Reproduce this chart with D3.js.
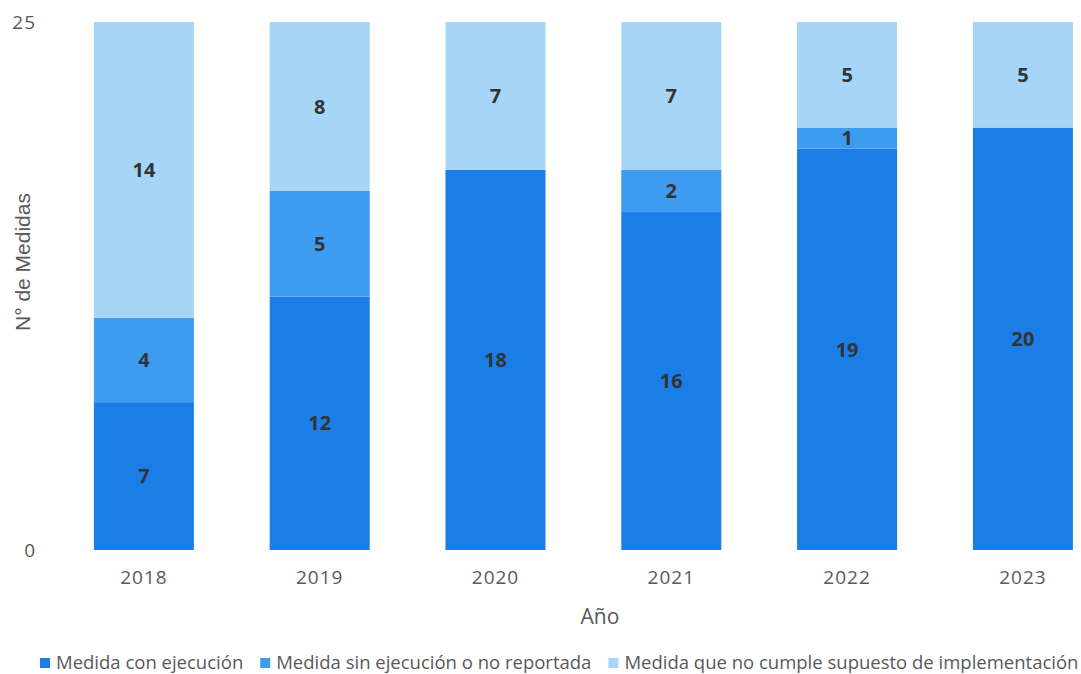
<!DOCTYPE html>
<html>
<head>
<meta charset="utf-8">
<script src="https://cdn.jsdelivr.net/npm/d3@7"></script>
<style>
  body { margin: 0; background: #fff; }
  svg { font-family: "Open Sans", sans-serif; }
</style>
</head>
<body>
<div id="chart"></div>
<script>
const years = ['2018', '2019', '2020', '2021', '2022', '2023'];
const conEjecucion = [7, 12, 18, 16, 19, 20];
const sinEjecucion = [4, 5, 0, 2, 1, 0];
const noCumple = [14, 8, 7, 7, 5, 5];
const seriesNames = [
  'Medida con ejecución',
  'Medida sin ejecución o no reportada',
  'Medida que no cumple supuesto de implementación'
];
const yTicks = [0, 25];

const width = 1081;
const height = 674;
const colors = ['#1b7ee6', '#3d9cef', '#a7d5f7'];

const svg = d3.select('#chart')
  .append('svg')
  .attr('width', width)
  .attr('height', height);

const rows = years.map((y, i) => ({
  year: y,
  s0: conEjecucion[i],
  s1: sinEjecucion[i],
  s2: noCumple[i]
}));
const stacked = d3.stack().keys(['s0', 's1', 's2'])(rows);

const x = d3.scaleBand()
  .domain(years)
  .range([56, 56 + 6 * 175.8])
  .paddingInner(0.431)
  .paddingOuter(0.2155);

const y = d3.scaleLinear()
  .domain([0, 25])
  .range([550, 22]);

// bars
stacked.forEach((layer, k) => {
  svg.append('g')
    .selectAll('rect')
    .data(layer)
    .join('rect')
    .attr('x', d => x(d.data.year))
    .attr('y', d => y(d[1]))
    .attr('width', x.bandwidth())
    .attr('height', d => y(d[0]) - y(d[1]))
    .attr('fill', colors[k]);

  svg.append('g')
    .selectAll('text')
    .data(layer.filter(d => d[1] - d[0] > 0))
    .join('text')
    .attr('x', d => x(d.data.year) + x.bandwidth() / 2)
    .attr('y', d => y((d[0] + d[1]) / 2))
    .attr('dy', '0.36em')
    .attr('text-anchor', 'middle')
    .attr('font-size', 20)
    .attr('font-weight', 'bold')
    .attr('fill', '#333')
    .text(d => d[1] - d[0]);
});

// y axis
const yAxis = svg.append('g')
  .attr('transform', 'translate(36,0)')
  .call(d3.axisLeft(y).tickValues(yTicks).tickSize(0).tickPadding(0));
yAxis.select('.domain').remove();
yAxis.selectAll('text')
  .attr('font-family', '"Open Sans", sans-serif')
  .attr('font-size', 19)
  .attr('letter-spacing', 1)
  .attr('fill', '#595959');

// x axis
const xAxis = svg.append('g')
  .attr('transform', 'translate(0,568)')
  .call(d3.axisBottom(x).tickSize(0).tickPadding(2));
xAxis.select('.domain').remove();
xAxis.selectAll('text')
  .attr('font-family', '"Open Sans", sans-serif')
  .attr('font-size', 19)
  .attr('letter-spacing', 1)
  .attr('fill', '#595959');

// axis titles
svg.append('text')
  .attr('x', 600)
  .attr('y', 624)
  .attr('text-anchor', 'middle')
  .attr('font-size', 21)
  .attr('fill', '#595959')
  .text('Año');

svg.append('text')
  .attr('transform', 'translate(30,262) rotate(-90)')
  .attr('text-anchor', 'middle')
  .attr('font-family', '"Liberation Sans", Arial, sans-serif')
  .attr('font-size', 21)
  .attr('fill', '#595959')
  .text('N° de Medidas');

// legend
const legend = svg.append('g').attr('transform', 'translate(40,663)');
let lx = 0;
seriesNames.forEach((name, k) => {
  const g = legend.append('g').attr('transform', `translate(${lx},0)`);
  g.append('rect')
    .attr('x', 0)
    .attr('y', -5)
    .attr('width', 10)
    .attr('height', 10)
    .attr('fill', colors[k]);
  const t = g.append('text')
    .attr('x', 16)
    .attr('dy', '0.35em')
    .attr('font-size', 18.5)
    .attr('fill', '#595959')
    .text(name);
  lx += 16 + t.node().getComputedTextLength() + 17;
});
</script>
</body>
</html>
